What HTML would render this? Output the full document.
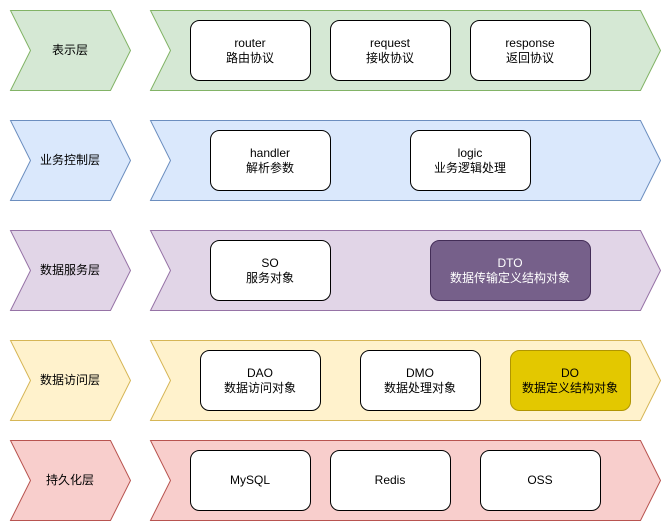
<!DOCTYPE html>
<html><head><meta charset="utf-8"><style>
html,body{margin:0;padding:0;background:#fff;}
svg{display:block;}
text{font-family:"Liberation Sans","Noto Sans CJK SC",sans-serif;font-size:12px;text-anchor:middle;fill:#000;}
</style></head><body>
<svg width="671" height="531" viewBox="0 0 671 531" xmlns="http://www.w3.org/2000/svg">
<g id="rows">
<!-- row 1 -->
<polygon points="10.5,10.5 110.5,10.5 130.5,50.5 110.5,90.5 10.5,90.5 30.5,50.5" fill="#d5e8d4" stroke="#82b366"/>
<polygon points="150.5,10.5 640.5,10.5 660.5,50.5 640.5,90.5 150.5,90.5 170.5,50.5" fill="#d5e8d4" stroke="#82b366"/>
<text x="70" y="54">表示层</text>
<!-- row 2 -->
<polygon points="10.5,120.5 110.5,120.5 130.5,160.5 110.5,200.5 10.5,200.5 30.5,160.5" fill="#dae8fc" stroke="#6c8ebf"/>
<polygon points="150.5,120.5 640.5,120.5 660.5,160.5 640.5,200.5 150.5,200.5 170.5,160.5" fill="#dae8fc" stroke="#6c8ebf"/>
<text x="70" y="164">业务控制层</text>
<!-- row 3 -->
<polygon points="10.5,230.5 110.5,230.5 130.5,270.5 110.5,310.5 10.5,310.5 30.5,270.5" fill="#e1d5e7" stroke="#9673a6"/>
<polygon points="150.5,230.5 640.5,230.5 660.5,270.5 640.5,310.5 150.5,310.5 170.5,270.5" fill="#e1d5e7" stroke="#9673a6"/>
<text x="70" y="274">数据服务层</text>
<!-- row 4 -->
<polygon points="10.5,340.5 110.5,340.5 130.5,380.5 110.5,420.5 10.5,420.5 30.5,380.5" fill="#fff2cc" stroke="#d6b656"/>
<polygon points="150.5,340.5 640.5,340.5 660.5,380.5 640.5,420.5 150.5,420.5 170.5,380.5" fill="#fff2cc" stroke="#d6b656"/>
<text x="70" y="384">数据访问层</text>
<!-- row 5 -->
<polygon points="10.5,440.5 110.5,440.5 130.5,480.5 110.5,520.5 10.5,520.5 30.5,480.5" fill="#f8cecc" stroke="#b85450"/>
<polygon points="150.5,440.5 640.5,440.5 660.5,480.5 640.5,520.5 150.5,520.5 170.5,480.5" fill="#f8cecc" stroke="#b85450"/>
<text x="70" y="484">持久化层</text>
</g>
<g stroke="#000" fill="#fff">
<rect x="190.5" y="20.5" width="120" height="60" rx="9"/>
<rect x="330.5" y="20.5" width="120" height="60" rx="9"/>
<rect x="470.5" y="20.5" width="120" height="60" rx="9"/>
<rect x="210.5" y="130.5" width="120" height="60" rx="9"/>
<rect x="410.5" y="130.5" width="120" height="60" rx="9"/>
<rect x="210.5" y="240.5" width="120" height="60" rx="9"/>
<rect x="430.5" y="240.5" width="160" height="60" rx="9" fill="#76608a" stroke="#432d57"/>
<rect x="200.5" y="350.5" width="120" height="60" rx="9"/>
<rect x="360.5" y="350.5" width="120" height="60" rx="9"/>
<rect x="510.5" y="350.5" width="120" height="60" rx="9" fill="#e3c800" stroke="#b09500"/>
<rect x="190.5" y="450.5" width="120" height="60" rx="9"/>
<rect x="330.5" y="450.5" width="120" height="60" rx="9"/>
<rect x="480.5" y="450.5" width="120" height="60" rx="9"/>
</g>
<text x="250" y="47">router</text><text x="250" y="62">路由协议</text>
<text x="390" y="47">request</text><text x="390" y="62">接收协议</text>
<text x="530" y="47">response</text><text x="530" y="62">返回协议</text>
<text x="270" y="157">handler</text><text x="270" y="172">解析参数</text>
<text x="470" y="157">logic</text><text x="470" y="172">业务逻辑处理</text>
<text x="270" y="267">SO</text><text x="270" y="282">服务对象</text>
<text x="510" y="267" style="fill:#fff">DTO</text><text x="510" y="282" style="fill:#fff">数据传输定义结构对象</text>
<text x="260" y="377">DAO</text><text x="260" y="392">数据访问对象</text>
<text x="420" y="377">DMO</text><text x="420" y="392">数据处理对象</text>
<text x="570" y="377">DO</text><text x="570" y="392">数据定义结构对象</text>
<text x="250" y="484">MySQL</text>
<text x="390" y="484">Redis</text>
<text x="540" y="484">OSS</text>
</svg>
</body></html>
